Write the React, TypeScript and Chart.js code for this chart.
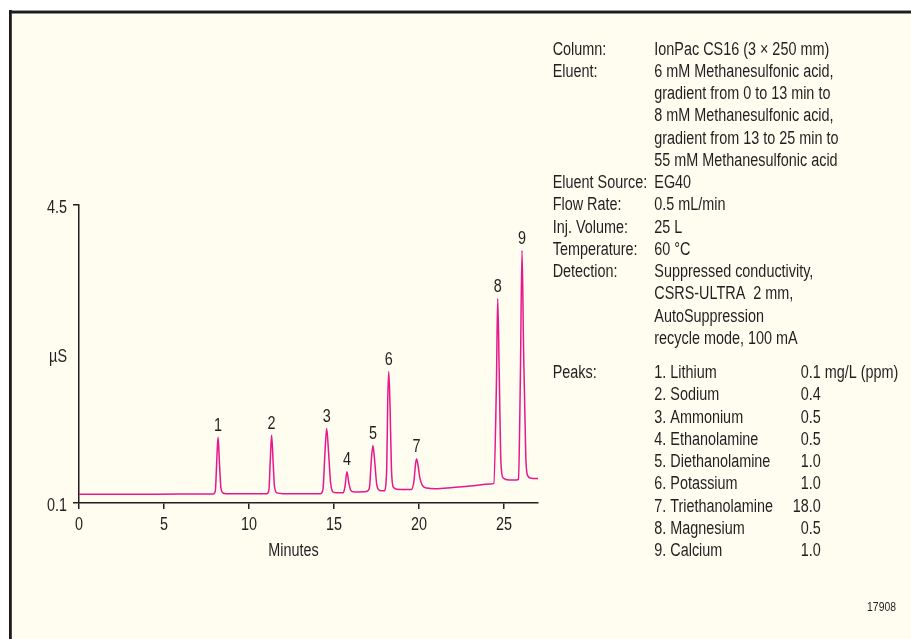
import React, { useEffect, useRef } from "react";
import { Chart, registerables } from "chart.js";

Chart.register(...registerables);

// Chromatogram trace (minutes, µS)
const times = [
  0, 3, 6, 7.9, 8.02, 8.1, 8.18, 8.27, 8.35, 8.5, 8.8,
  11.05, 11.17, 11.25, 11.33, 11.42, 11.5, 11.65, 12.0,
  14.2, 14.35, 14.47, 14.57, 14.68, 14.8, 14.95, 15.2,
  15.55, 15.65, 15.76, 15.87, 15.98, 16.2,
  16.9, 17.08, 17.2, 17.29, 17.4, 17.52, 17.7, 17.95,
  18.1, 18.16, 18.22, 18.3, 18.38, 18.5, 18.8, 19.4,
  19.55, 19.7, 19.8, 19.86, 19.95, 20.05, 20.2, 20.45, 21.0,
  22.0, 23.0, 24.2, 24.4,
  24.55, 24.63, 24.72, 24.82, 24.95, 25.3, 25.75,
  25.85, 25.96, 26.06, 26.15, 26.28, 26.4, 26.6, 27.0,
];
const signal = [
  0.23, 0.23, 0.232, 0.233, 0.28, 0.7, 1.07, 0.65, 0.32, 0.245, 0.235,
  0.235, 0.29, 0.72, 1.1, 0.7, 0.34, 0.25, 0.238,
  0.235, 0.3, 0.85, 1.2, 0.85, 0.4, 0.26, 0.25,
  0.252, 0.35, 0.56, 0.4, 0.29, 0.262,
  0.268, 0.32, 0.75, 0.95, 0.7, 0.36, 0.285, 0.28,
  0.6, 1.6, 2.04, 1.5, 0.6, 0.33, 0.3, 0.3,
  0.3, 0.42, 0.68, 0.75, 0.65, 0.47, 0.36, 0.32, 0.31,
  0.33, 0.35, 0.38, 0.39,
  1.8, 3.12, 2.0, 0.7, 0.47, 0.44, 0.44,
  0.45, 1.9, 3.83, 2.4, 0.8, 0.5, 0.465, 0.46,
];

const peakNumbers = ["1", "2", "3", "4", "5", "6", "7", "8", "9"];
const peakTimes = [8.18, 11.33, 14.57, 15.76, 17.29, 18.22, 19.86, 24.63, 26.06];
const peakApex = [1.07, 1.1, 1.2, 0.56, 0.95, 2.04, 0.75, 3.12, 3.83];

const xTicks = [0, 5, 10, 15, 20, 25];
const yTicks = [0.1, 4.5];
const xTitle = "Minutes";
const yTitle = "µS";

const conditionLabels = [
  "Column:", "Eluent:", "", "", "", "", "Eluent Source:", "Flow Rate:",
  "Inj. Volume:", "Temperature:", "Detection:", "", "", "",
];
const conditionValues = [
  "IonPac CS16 (3 × 250 mm)",
  "6 mM Methanesulfonic acid,",
  "gradient from 0 to 13 min to",
  "8 mM Methanesulfonic acid,",
  "gradient from 13 to 25 min to",
  "55 mM Methanesulfonic acid",
  "EG40",
  "0.5 mL/min",
  "25 L",
  "60 °C",
  "Suppressed conductivity,",
  "CSRS-ULTRA  2 mm,",
  "AutoSuppression",
  "recycle mode, 100 mA",
];
const peaksHeading = "Peaks:";
const peakNames = [
  "1. Lithium", "2. Sodium", "3. Ammonium", "4. Ethanolamine", "5. Diethanolamine",
  "6. Potassium", "7. Triethanolamine", "8. Magnesium", "9. Calcium",
];
const peakConc = ["0.1", "0.4", "0.5", "0.5", "1.0", "1.0", "18.0", "0.5", "1.0"];
const concUnit = " mg/L (ppm)";
const figureId = "17908";

const FONT = '"Liberation Sans", Arial, sans-serif';
const SQUEEZE = 0.8;
const FS = 18;
const INK = "#231F20";
const TRACE = "#EA168C";
const CREAM = "#FEFDF0";

// condensed text: draws with a horizontal squeeze, centre y given
function drawText(ctx: CanvasRenderingContext2D, text: string, x: number, yc: number, align: "left" | "right" | "center", size = FS) {
  ctx.save();
  ctx.font = `${size}px ${FONT}`;
  ctx.textAlign = "left";
  ctx.textBaseline = "alphabetic";
  const w = ctx.measureText(text).width * SQUEEZE;
  let sx = x;
  if (align === "right") sx = x - w;
  else if (align === "center") sx = x - w / 2;
  ctx.translate(sx, yc + size * 0.358);
  ctx.scale(SQUEEZE, 1);
  ctx.fillText(text, 0, 0);
  ctx.restore();
}

const framePlugin = {
  id: "frame",
  beforeDraw(chart: any) {
    const ctx = chart.ctx;
    ctx.save();
    ctx.fillStyle = "#ffffff";
    ctx.fillRect(0, 0, chart.width, chart.height);
    ctx.fillStyle = CREAM;
    ctx.fillRect(11, 12, chart.width, chart.height);
    ctx.fillStyle = "#9a9a9a";
    ctx.fillRect(9, 10, chart.width, 1);
    ctx.fillStyle = "#1c1c1c";
    ctx.fillRect(9, 11, chart.width, 2.5);
    ctx.fillRect(9, 10, 2.8, chart.height);
    ctx.restore();
  },
};

const textPlugin = {
  id: "texts",
  afterDraw(chart: any) {
    const ctx = chart.ctx;
    const xs = chart.scales.x;
    const ys = chart.scales.y;
    ctx.save();
    ctx.fillStyle = INK;

    // tick labels
    xTicks.forEach((v) => drawText(ctx, String(v), xs.getPixelForValue(v), 524, "center"));
    yTicks.forEach((v) => drawText(ctx, String(v), 67, ys.getPixelForValue(v) + 1.5, "right"));

    // peak numbers
    peakNumbers.forEach((n, i) => {
      drawText(ctx, n, xs.getPixelForValue(peakTimes[i]), ys.getPixelForValue(peakApex[i]) - 13, "center");
    });

    // axis titles
    drawText(ctx, xTitle, 293.5, 550, "center");
    drawText(ctx, yTitle, 67, (chart.chartArea.top + chart.chartArea.bottom) / 2 + 1.5, "right");

    // conditions block
    const lh = 22.25;
    conditionLabels.forEach((l, i) => {
      const y = 48.3 + i * lh;
      if (l) drawText(ctx, l, 552.7, y, "left");
      drawText(ctx, conditionValues[i], 654.3, y, "left");
    });
    const py = 371.7;
    drawText(ctx, peaksHeading, 552.7, py, "left");
    peakNames.forEach((p, i) => {
      const y = py + i * lh;
      drawText(ctx, p, 654.3, y, "left");
      drawText(ctx, peakConc[i], 820.7, y, "right");
      if (i === 0) drawText(ctx, concUnit, 820.7, y, "left");
    });

    drawText(ctx, figureId, 896, 606.7, "right", 13);
    ctx.restore();
  },
};

export default function App() {
  const ref = useRef<HTMLCanvasElement | null>(null);

  useEffect(() => {
    if (!ref.current) return;
    const points = times.map((t, i) => ({ x: t, y: signal[i] }));
    const chart = new Chart(ref.current, {
      type: "line",
      data: {
        datasets: [
          {
            data: points,
            borderColor: TRACE,
            borderWidth: 1.5,
            pointRadius: 0,
            cubicInterpolationMode: "monotone",
            fill: false,
          },
        ],
      },
      options: {
        animation: false,
        responsive: false,
        devicePixelRatio: 1,
        layout: { padding: { left: 39, right: 373, top: 205, bottom: 96 } },
        plugins: { legend: { display: false }, tooltip: { enabled: false } },
        scales: {
          x: {
            type: "linear",
            min: 0,
            max: 27,
            afterBuildTicks: (s: any) => {
              s.ticks = xTicks.map((v) => ({ value: v }));
            },
            afterFit: (s: any) => {
              s.height = 40;
              s.paddingLeft = 0;
              s.paddingRight = 0;
            },
            ticks: { display: false, autoSkip: false, maxRotation: 0 },
            grid: { drawOnChartArea: false, drawTicks: true, tickLength: 6, color: INK, lineWidth: 1.5 },
            border: { display: true, color: INK, width: 1.5 },
          },
          y: {
            type: "linear",
            min: 0.1,
            max: 4.5,
            afterBuildTicks: (s: any) => {
              s.ticks = yTicks.map((v) => ({ value: v }));
            },
            afterFit: (s: any) => {
              s.width = 40;
              s.paddingTop = 0;
              s.paddingBottom = 0;
            },
            ticks: { display: false, autoSkip: false },
            grid: { drawOnChartArea: false, drawTicks: true, tickLength: 6, color: INK, lineWidth: 1.5 },
            border: { display: true, color: INK, width: 1.5 },
          },
        },
      },
      plugins: [framePlugin, textPlugin],
    } as any);
    return () => chart.destroy();
  }, []);

  return (
    <div
      style={{
        position: "fixed",
        left: 0,
        top: 0,
        width: 911,
        height: 639,
        overflow: "hidden",
        background: "#fff",
      }}
    >
      <canvas ref={ref} width={911} height={639} style={{ display: "block", width: 911, height: 639 }} />
    </div>
  );
}
